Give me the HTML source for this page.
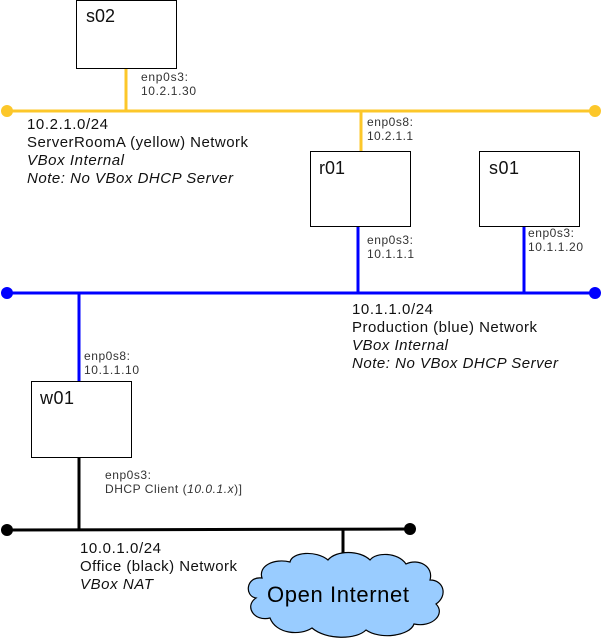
<!DOCTYPE html>
<html><head><meta charset="utf-8"><style>
html,body{margin:0;padding:0;background:#fff;}
svg{display:block;}
text{font-family:"Liberation Sans",sans-serif;}
.s{font-size:12px;fill:#333;}
.b{font-size:15px;fill:#111;}
.i{font-style:italic;}
.n{font-size:18px;fill:#111;}
</style></head><body>
<svg width="602" height="639" viewBox="0 0 602 639" xmlns="http://www.w3.org/2000/svg">
<line x1="7" y1="111" x2="595" y2="111" stroke="#fcc72a" stroke-width="3"/>
<circle cx="7" cy="111" r="6" fill="#fcc72a"/>
<circle cx="595" cy="111" r="6" fill="#fcc72a"/>
<line x1="126" y1="68" x2="126" y2="111" stroke="#fcc72a" stroke-width="3"/>
<line x1="361" y1="111" x2="361" y2="151" stroke="#fcc72a" stroke-width="3"/>
<line x1="7" y1="293" x2="595" y2="293" stroke="#0000ff" stroke-width="3"/>
<circle cx="7" cy="293" r="6" fill="#0000ff"/>
<circle cx="595" cy="293" r="6" fill="#0000ff"/>
<line x1="358" y1="226" x2="358" y2="293" stroke="#0000ff" stroke-width="3"/>
<line x1="524" y1="226" x2="524" y2="293" stroke="#0000ff" stroke-width="3"/>
<line x1="79" y1="293" x2="79" y2="381" stroke="#0000ff" stroke-width="3"/>
<line x1="7" y1="530" x2="410" y2="529" stroke="#000" stroke-width="3"/>
<circle cx="7" cy="530" r="6" fill="#000"/>
<circle cx="410" cy="529" r="6" fill="#000"/>
<line x1="79" y1="457" x2="79" y2="530" stroke="#000" stroke-width="3"/>
<line x1="343" y1="529" x2="343" y2="558" stroke="#000" stroke-width="3"/>
<rect x="76.5" y="0.5" width="100" height="68" fill="#fff" stroke="#000"/>
<rect x="310.5" y="151.5" width="100" height="75" fill="#fff" stroke="#000"/>
<rect x="479.5" y="151.5" width="100" height="75" fill="#fff" stroke="#000"/>
<rect x="31.5" y="381.5" width="100" height="76" fill="#fff" stroke="#000"/>
<text class="n" x="86" y="22" textLength="29">s02</text>
<text class="n" x="319" y="174" textLength="26">r01</text>
<text class="n" x="489" y="174" textLength="30">s01</text>
<text class="n" x="40" y="404" textLength="34">w01</text>
<text class="s" x="141" y="81" textLength="47">enp0s3:</text>
<text class="s" x="141" y="95" textLength="55">10.2.1.30</text>
<text class="s" x="367" y="126" textLength="46">enp0s8:</text>
<text class="s" x="367" y="140" textLength="46">10.2.1.1</text>
<text class="s" x="367" y="244" textLength="46">enp0s3:</text>
<text class="s" x="367" y="258" textLength="47">10.1.1.1</text>
<text class="s" x="528" y="237" textLength="46">enp0s3:</text>
<text class="s" x="528" y="251" textLength="55">10.1.1.20</text>
<text class="s" x="84" y="360" textLength="46">enp0s8:</text>
<text class="s" x="84" y="374" textLength="55">10.1.1.10</text>
<text class="s" x="105" y="479" textLength="46">enp0s3:</text>
<text class="s" x="105" y="493" textLength="137">DHCP Client (<tspan class="i">10.0.1.x</tspan>)]</text>
<text class="b" x="27" y="129" textLength="81">10.2.1.0/24</text>
<text class="b" x="27" y="147" textLength="221">ServerRoomA (yellow) Network</text>
<text class="b i" x="27" y="165" textLength="97">VBox Internal</text>
<text class="b i" x="27" y="183" textLength="206">Note: No VBox DHCP Server</text>
<text class="b" x="352" y="314" textLength="81">10.1.1.0/24</text>
<text class="b" x="352" y="332" textLength="185">Production (blue) Network</text>
<text class="b i" x="352" y="350" textLength="96">VBox Internal</text>
<text class="b i" x="352" y="368" textLength="206">Note: No VBox DHCP Server</text>
<text class="b" x="80" y="553" textLength="81">10.0.1.0/24</text>
<text class="b" x="80" y="571" textLength="157">Office (black) Network</text>
<text class="b i" x="80" y="589" textLength="73">VBox NAT</text>
<path d="M262,578 C246,576 244,596 256,598 C244,606 254,622 270,618 C276,634 300,636 312,628 C326,640 356,640 366,630 C380,640 410,636 414,624 C432,628 446,614 436,604 C448,596 444,580 430,580 C434,566 418,558 406,564 C398,552 376,552 370,560 C360,550 336,550 328,560 C316,550 292,552 290,562 C274,558 258,566 262,578 Z" fill="#99ccff" stroke="#000" stroke-width="1.2"/>
<text x="267" y="602" textLength="142" style="font-size:22px;fill:#000">Open Internet</text>
</svg>
</body></html>
